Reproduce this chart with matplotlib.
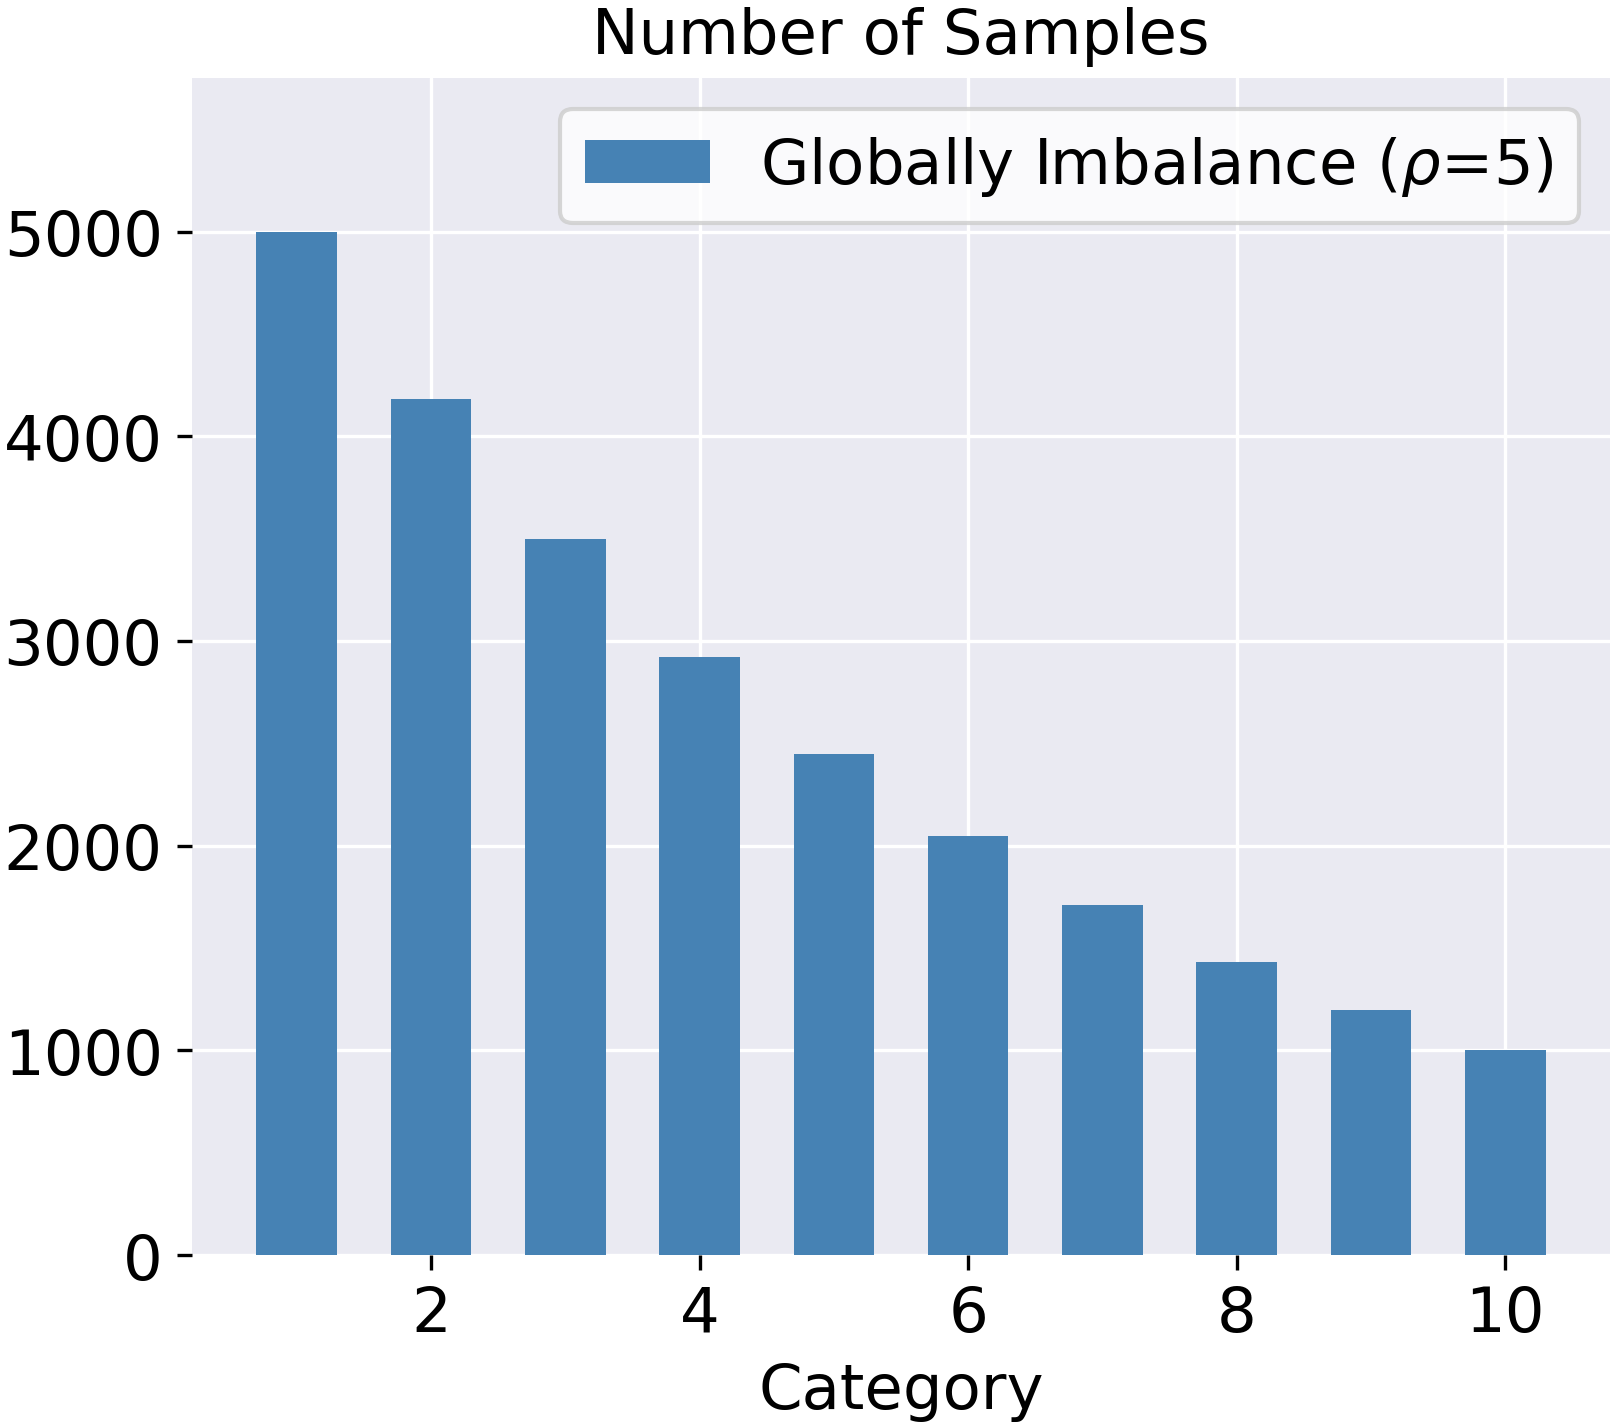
import matplotlib
matplotlib.use("Agg")
import matplotlib.pyplot as plt

categories = [1, 2, 3, 4, 5, 6, 7, 8, 9, 10]
samples = [5000, 4182, 3499, 2924, 2446, 2046, 1710, 1431, 1197, 1000]
series_label = r"Globally Imbalance ($\rho$=5)"

plt.style.use("seaborn-v0_8-darkgrid")
plt.rcParams.update(
    {
        "font.family": "DejaVu Sans",
        "xtick.major.size": 3.5,
        "ytick.major.size": 3.5,
        "xtick.major.width": 0.8,
        "ytick.major.width": 0.8,
        "xtick.color": "black",
        "ytick.color": "black",
        "text.color": "black",
        "axes.labelcolor": "black",
        "font.size": 15,
    }
)

fig, ax = plt.subplots(figsize=(5.4, 4.763))
ax.bar(categories, samples, width=0.6, color="steelblue", label=series_label)
ax.set_xlim(0.22, 10.78)
ax.set_ylim(0, 5750)
ax.set_xticks([2, 4, 6, 8, 10])
ax.set_yticks([0, 1000, 2000, 3000, 4000, 5000])
ax.tick_params(labelsize=15)
ax.set_xlabel("Category", fontsize=15, labelpad=4)
ax.set_title("Number of Samples", fontsize=15, pad=6)
ax.legend(loc="upper right", frameon=True, fontsize=15, facecolor="white")
fig.subplots_adjust(left=0.1185, right=0.9938, top=0.9447, bottom=0.121)
fig.savefig("out.png", dpi=300)
